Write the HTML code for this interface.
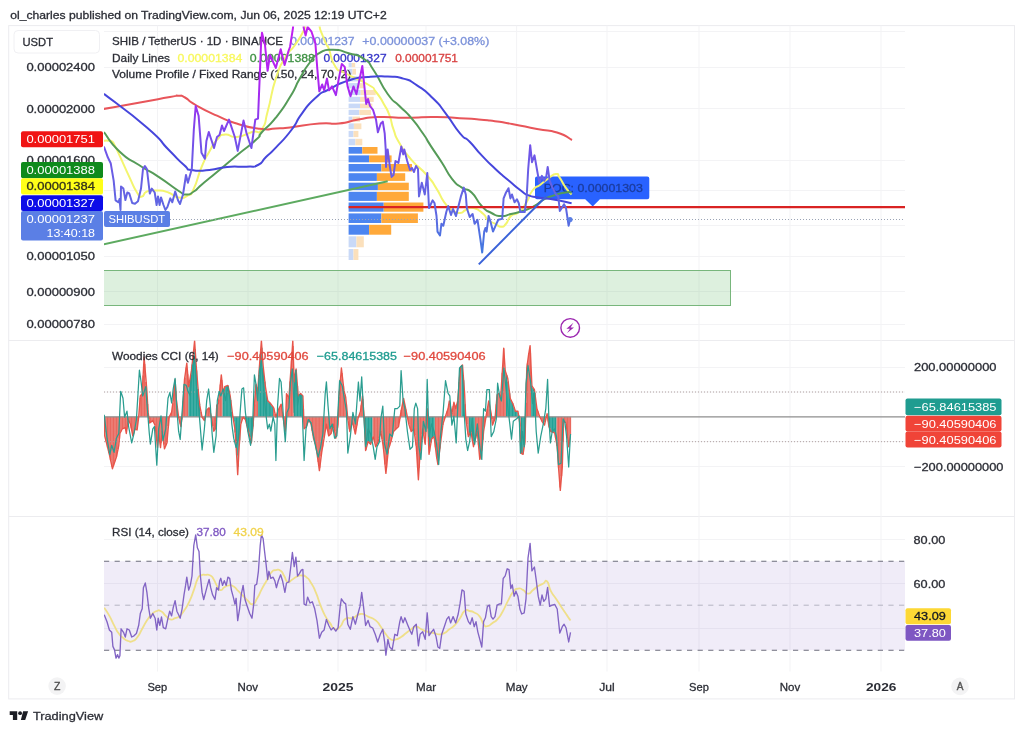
<!DOCTYPE html>
<html lang="en"><head><meta charset="utf-8"><title>SHIB / TetherUS - TradingView</title>
<style>
html,body{margin:0;padding:0;background:#fff;}
body{width:1024px;height:733px;overflow:hidden;position:relative;font-family:'Liberation Sans', sans-serif;}
svg{position:absolute;left:0;top:0;display:block}
text{font-family:'Liberation Sans', sans-serif;}
.t{font-size:11.6px;stroke-width:.3px}
.n{font-size:11.6px;stroke-width:.3px}
</style></head><body>
<svg width="1024" height="733" viewBox="0 0 1024 733">
<defs>
<linearGradient id="pg" gradientUnits="userSpaceOnUse" x1="0" y1="28" x2="0" y2="260">
<stop offset="0" stop-color="#C020F0"/><stop offset="0.2" stop-color="#B024F0"/><stop offset="0.31" stop-color="#A02CF0"/><stop offset="0.42" stop-color="#8244EC"/><stop offset="0.525" stop-color="#7054E8"/><stop offset="0.655" stop-color="#6860E4"/><stop offset="0.8" stop-color="#5E68E2"/><stop offset="1" stop-color="#3C7CE0"/>
</linearGradient>
<clipPath id="cm"><rect x="104" y="26.6" width="801" height="313.9"/></clipPath>
<clipPath id="cc"><rect x="104" y="340.5" width="801" height="176.0"/></clipPath>
<clipPath id="cr"><rect x="104" y="516.5" width="801" height="155.0"/></clipPath>
</defs>
<rect width="1024" height="733" fill="#fff"/>

<text x="10.2" y="19.2" class="t" textLength="376.5" lengthAdjust="spacingAndGlyphs" style="fill:#2c2e36;stroke:#2c2e36">ol_charles published on TradingView.com, Jun 06, 2025 12:19 UTC+2</text>
<rect x="8.7" y="25.6" width="1005.8" height="673.3" fill="none" stroke="#ECECEF" stroke-width="1"/>
<line x1="8.7" y1="340.5" x2="1014.5" y2="340.5" stroke="#ECECEF"/>
<line x1="8.7" y1="516.5" x2="1014.5" y2="516.5" stroke="#ECECEF"/>
<line x1="157.5" y1="25.6" x2="157.5" y2="671.5" stroke="#F3F3F5"/>
<line x1="248" y1="25.6" x2="248" y2="671.5" stroke="#F3F3F5"/>
<line x1="338" y1="25.6" x2="338" y2="671.5" stroke="#F3F3F5"/>
<line x1="426" y1="25.6" x2="426" y2="671.5" stroke="#F3F3F5"/>
<line x1="516.6" y1="25.6" x2="516.6" y2="671.5" stroke="#F3F3F5"/>
<line x1="607" y1="25.6" x2="607" y2="671.5" stroke="#F3F3F5"/>
<line x1="699" y1="25.6" x2="699" y2="671.5" stroke="#F3F3F5"/>
<line x1="790" y1="25.6" x2="790" y2="671.5" stroke="#F3F3F5"/>
<line x1="881" y1="25.6" x2="881" y2="671.5" stroke="#F3F3F5"/>
<line x1="104" y1="31.5" x2="905" y2="31.5" stroke="#F3F3F5"/>
<line x1="104" y1="67.5" x2="905" y2="67.5" stroke="#F3F3F5"/>
<line x1="104" y1="108.5" x2="905" y2="108.5" stroke="#F3F3F5"/>
<line x1="104" y1="160.5" x2="905" y2="160.5" stroke="#F3F3F5"/>
<line x1="104" y1="190.5" x2="905" y2="190.5" stroke="#F3F3F5"/>
<line x1="104" y1="225.5" x2="905" y2="225.5" stroke="#F3F3F5"/>
<line x1="104" y1="256.5" x2="905" y2="256.5" stroke="#F3F3F5"/>
<line x1="104" y1="291.5" x2="905" y2="291.5" stroke="#F3F3F5"/>
<line x1="104" y1="324.5" x2="905" y2="324.5" stroke="#F3F3F5"/>
<line x1="104" y1="367.5" x2="905" y2="367.5" stroke="#F3F3F5"/>
<line x1="104" y1="392" x2="905" y2="392" stroke="#F3F3F5"/>
<line x1="104" y1="441.5" x2="905" y2="441.5" stroke="#F3F3F5"/>
<line x1="104" y1="466.5" x2="905" y2="466.5" stroke="#F3F3F5"/>
<line x1="104" y1="539.5" x2="905" y2="539.5" stroke="#F3F3F5"/>
<line x1="104" y1="583.5" x2="905" y2="583.5" stroke="#F3F3F5"/>
<line x1="104" y1="628.5" x2="905" y2="628.5" stroke="#F3F3F5"/>
<g clip-path="url(#cm)">
<rect x="102" y="270.5" width="628.5" height="35" fill="#4CAF50" fill-opacity="0.19" stroke="#78B67C" stroke-width="1"/>
<rect x="348.6" y="249.0" width="4.9" height="11.0" fill="#C9D9F7"/>
<rect x="353.5" y="249.0" width="4.9" height="11.0" fill="#FBE0BC"/>
<rect x="348.6" y="236.3" width="7.8" height="11.0" fill="#C9D9F7"/>
<rect x="356.4" y="236.3" width="7.4" height="11.0" fill="#FBE0BC"/>
<rect x="348.6" y="224.8" width="20.5" height="9.9" fill="#4C85F0"/>
<rect x="369.1" y="224.8" width="22.1" height="9.9" fill="#FFA93A"/>
<rect x="348.6" y="213.4" width="32.8" height="9.6" fill="#4C85F0"/>
<rect x="381.4" y="213.4" width="36.5" height="9.6" fill="#FFA93A"/>
<rect x="348.6" y="202.5" width="35.1" height="9.2" fill="#4C85F0"/>
<rect x="383.8" y="202.5" width="39.6" height="9.2" fill="#FFA93A"/>
<rect x="348.6" y="191.8" width="28.3" height="9.1" fill="#4C85F0"/>
<rect x="376.9" y="191.8" width="31.9" height="9.1" fill="#FFA93A"/>
<rect x="348.6" y="182.7" width="29.3" height="7.4" fill="#4C85F0"/>
<rect x="377.9" y="182.7" width="30.9" height="7.4" fill="#FFA93A"/>
<rect x="348.6" y="173.2" width="28.3" height="7.7" fill="#4C85F0"/>
<rect x="376.9" y="173.2" width="28.3" height="7.7" fill="#FFA93A"/>
<rect x="348.6" y="164.0" width="32.8" height="7.5" fill="#4C85F0"/>
<rect x="381.4" y="164.0" width="30.6" height="7.5" fill="#FFA93A"/>
<rect x="348.6" y="155.4" width="20.5" height="6.9" fill="#4C85F0"/>
<rect x="369.1" y="155.4" width="22.5" height="6.9" fill="#FFA93A"/>
<rect x="348.6" y="147.0" width="13.7" height="6.7" fill="#4C85F0"/>
<rect x="362.3" y="147.0" width="15.2" height="6.7" fill="#FFA93A"/>
<rect x="348.6" y="138.8" width="6.8" height="6.5" fill="#C9D9F7"/>
<rect x="355.4" y="138.8" width="6.9" height="6.5" fill="#FBE0BC"/>
<rect x="348.6" y="130.9" width="4.9" height="6.2" fill="#C9D9F7"/>
<rect x="353.5" y="130.9" width="4.9" height="6.2" fill="#FBE0BC"/>
<rect x="348.6" y="123.4" width="5.3" height="5.8" fill="#C9D9F7"/>
<rect x="353.9" y="123.4" width="7.5" height="5.8" fill="#FBE0BC"/>
<rect x="348.6" y="116.6" width="3.9" height="5.1" fill="#C9D9F7"/>
<rect x="352.5" y="116.6" width="7.5" height="5.1" fill="#FBE0BC"/>
<rect x="348.6" y="109.8" width="10.7" height="5.2" fill="#C9D9F7"/>
<rect x="359.3" y="109.8" width="11.7" height="5.2" fill="#FBE0BC"/>
<rect x="348.6" y="103.6" width="11.4" height="4.4" fill="#C9D9F7"/>
<rect x="360.0" y="103.6" width="12.3" height="4.4" fill="#FBE0BC"/>
<rect x="348.6" y="96.8" width="11.4" height="5.1" fill="#C9D9F7"/>
<rect x="360.0" y="96.8" width="13.7" height="5.1" fill="#FBE0BC"/>
<rect x="348.6" y="90.0" width="12.1" height="5.1" fill="#C9D9F7"/>
<rect x="360.7" y="90.0" width="15.0" height="5.1" fill="#FBE0BC"/>
<rect x="348.6" y="83.1" width="10.7" height="5.2" fill="#C9D9F7"/>
<rect x="359.3" y="83.1" width="4.7" height="5.2" fill="#FBE0BC"/>
<rect x="348.6" y="76.3" width="10.7" height="5.1" fill="#C9D9F7"/>
<rect x="359.3" y="76.3" width="3.4" height="5.1" fill="#FBE0BC"/>
<rect x="348.6" y="68.8" width="3.9" height="5.8" fill="#C9D9F7"/>
<rect x="352.5" y="68.8" width="3.5" height="5.8" fill="#FBE0BC"/>
<rect x="348.6" y="62.9" width="3.2" height="4.3" fill="#C9D9F7"/>
<rect x="351.8" y="62.9" width="3.4" height="4.3" fill="#FBE0BC"/>
<text x="112" y="45.2" class="t" textLength="171" lengthAdjust="spacingAndGlyphs" style="fill:#2c2e36;stroke:#2c2e36">SHIB / TetherUS · 1D · BINANCE</text>
<text x="290.2" y="45.2" class="n" textLength="64.4" lengthAdjust="spacingAndGlyphs" style="fill:#7C92DA;stroke:#7C92DA">0.00001237</text>
<text x="362.3" y="45.2" class="n" textLength="127" lengthAdjust="spacingAndGlyphs" style="fill:#7C92DA;stroke:#7C92DA">+0.00000037 (+3.08%)</text>
<text x="112" y="61.6" class="t" textLength="58" lengthAdjust="spacingAndGlyphs" style="fill:#2c2e36;stroke:#2c2e36">Daily Lines</text>
<text x="177.5" y="61.6" class="n" textLength="64.8" lengthAdjust="spacingAndGlyphs" style="fill:#F8F85E;stroke:#F8F85E">0.00001384</text>
<text x="249.8" y="61.6" class="n" textLength="65.2" lengthAdjust="spacingAndGlyphs" style="fill:#3F9144;stroke:#3F9144">0.00001388</text>
<text x="323.4" y="61.6" class="n" textLength="63.2" lengthAdjust="spacingAndGlyphs" style="fill:#3535C8;stroke:#3535C8">0.00001327</text>
<text x="395.2" y="61.6" class="n" textLength="62.8" lengthAdjust="spacingAndGlyphs" style="fill:#D84040;stroke:#D84040">0.00001751</text>
<text x="112" y="77.9" class="t" textLength="239.3" lengthAdjust="spacingAndGlyphs" style="fill:#2c2e36;stroke:#2c2e36">Volume Profile / Fixed Range (150, 24, 70, 2)</text>
<path d="M537,176.5 h110.3 a2,2 0 0 1 2,2 v18.8 a2,2 0 0 1 -2,2 h-47.4 l-7.2,7.3 l-7.5,-7.3 h-48.2 a2,2 0 0 1 -2,-2 v-18.8 a2,2 0 0 1 2,-2 z" fill="#2962FF"/>
<text x="543.8" y="191.8" class="n" textLength="99" lengthAdjust="spacingAndGlyphs" style="fill:#1B3C9E;stroke:#1B3C9E">POC: 0.00001303</text>
<line x1="103.9" y1="244.3" x2="387.7" y2="181.2" stroke="#5DAA60" stroke-width="2"/>
<line x1="170" y1="219.5" x2="905" y2="219.5" stroke="#9AA3B5" stroke-width="1" stroke-dasharray="1 2"/>
<path d="M104.0,140.7C105.3,140.7 105.4,140.5 108.0,140.7C110.6,140.9 109.4,139.4 111.7,141.2C114.0,143.0 112.4,141.3 115.0,146.0C117.6,150.7 114.7,145.1 119.5,155.4C124.3,165.7 123.5,164.5 129.3,176.9C135.1,189.3 132.8,186.0 137.0,192.5C141.2,199.0 138.7,196.7 142.0,196.4C145.3,196.1 142.0,193.5 146.9,191.5C151.8,189.5 149.4,190.2 156.6,190.5C163.8,190.8 161.3,190.2 168.4,192.5C175.5,194.8 171.5,196.4 178.0,197.4C184.5,198.4 182.6,198.3 187.9,195.4C193.2,192.5 189.2,198.1 193.8,188.6C198.4,179.1 196.4,179.4 201.6,167.0C206.8,154.6 204.3,160.6 209.4,151.5C214.5,142.4 211.8,145.5 217.0,139.8C222.2,134.1 218.4,135.4 225.0,134.5C231.6,133.6 227.7,137.8 236.7,137.0C245.7,136.2 243.6,134.7 252.0,132.0C260.4,129.3 256.7,136.3 262.0,129.0C267.3,121.7 263.4,126.8 268.0,110.0C272.6,93.2 270.1,95.9 275.8,78.6C281.5,61.3 278.6,69.2 285.0,58.0C291.4,46.8 289.0,53.7 295.0,45.0C301.0,36.3 298.7,39.7 303.0,32.0C307.3,24.3 303.3,25.3 308.0,22.0C312.7,18.7 312.7,18.8 317.0,22.0C321.3,25.2 318.0,24.5 321.0,31.7C324.0,38.9 323.3,37.7 326.0,43.6C328.7,49.5 326.0,41.8 329.0,49.3C332.0,56.8 329.7,58.1 335.0,66.0C340.3,73.9 334.0,66.8 345.0,73.0C356.0,79.2 357.7,78.2 368.0,84.5C378.3,90.8 370.7,85.5 376.0,92.0C381.3,98.5 379.3,96.1 383.8,104.0C388.3,111.9 386.4,107.2 389.6,115.7C392.8,124.2 390.2,120.3 393.5,129.4C396.8,138.5 393.6,133.0 399.4,143.0C405.2,153.0 401.9,148.6 411.0,159.3C420.1,170.0 418.2,165.2 426.7,175.0C435.2,184.8 430.6,179.5 436.5,188.6C442.4,197.7 439.1,195.2 444.3,202.3C449.5,209.4 446.8,206.4 452.0,210.0C457.2,213.6 455.4,213.0 460.0,213.0C464.6,213.0 461.3,211.7 465.8,210.0C470.3,208.3 467.7,206.7 473.6,208.0C479.5,209.3 478.7,210.1 483.4,214.0C488.1,217.9 483.6,216.5 487.6,219.8C491.6,223.1 490.9,221.5 495.4,223.8C499.9,226.1 497.5,226.7 501.0,226.7C504.5,226.7 502.7,227.4 506.0,223.8C509.3,220.2 506.7,219.9 511.0,216.0C515.3,212.1 513.6,216.6 518.8,212.0C524.0,207.4 522.0,209.5 526.6,202.3C531.2,195.1 527.9,196.4 532.5,190.5C537.1,184.6 535.1,188.6 540.3,184.7C545.5,180.8 542.8,182.4 548.0,178.8C553.2,175.2 552.1,174.3 556.0,174.0C559.9,173.7 556.6,173.4 559.8,177.9C563.0,182.4 561.8,182.1 565.7,187.6C569.6,193.1 569.6,192.2 571.6,194.5" fill="none" stroke="#F3F56E" stroke-width="2" stroke-linejoin="round"/>
<path d="M103.9,108.9C115.9,106.8 118.0,106.5 140.0,102.5C162.0,98.5 157.3,99.2 170.0,97.0C182.7,94.8 173.1,95.6 178.1,95.8C183.1,96.0 179.1,94.4 185.0,97.5C190.9,100.6 185.0,98.9 195.7,105.0C206.4,111.1 203.3,109.5 217.0,115.7C230.7,121.9 222.4,119.1 236.7,123.5C251.0,127.9 247.0,127.2 260.0,128.8C273.0,130.4 265.8,128.9 275.8,128.4C285.8,127.9 275.5,129.0 290.0,127.4C304.5,125.8 303.0,124.8 319.3,123.5C335.6,122.2 325.8,124.8 338.8,123.5C351.8,122.2 345.4,121.8 358.4,119.6C371.4,117.4 361.7,117.6 377.9,117.0C394.1,116.4 387.5,117.7 407.0,117.7C426.5,117.7 416.9,116.7 436.5,117.0C456.1,117.3 448.0,117.4 465.8,118.6C483.6,119.8 474.6,118.8 490.0,120.6C505.4,122.4 496.3,121.2 512.0,124.0C527.7,126.8 522.0,126.2 537.0,129.0C552.0,131.8 545.3,128.8 557.0,132.5C568.7,136.2 567.0,137.5 572.0,140.0" fill="none" stroke="#E8555A" stroke-width="2" stroke-linejoin="round"/>
<path d="M103.9,132.0C109.1,138.5 107.8,140.5 119.5,151.5C131.2,162.5 126.0,156.5 139.0,165.0C152.0,173.5 145.6,168.4 158.6,176.9C171.6,185.4 168.9,184.6 178.0,190.5C187.1,196.4 180.7,194.2 186.0,194.5C191.3,194.8 188.6,194.8 193.8,191.5C199.0,188.2 193.9,191.2 201.6,184.7C209.3,178.2 205.3,181.8 217.0,172.0C228.7,162.2 223.7,166.1 236.7,155.4C249.7,144.7 247.6,147.6 256.0,139.8C264.4,132.0 255.4,139.4 262.0,132.0C268.6,124.6 266.5,129.4 275.8,117.7C285.1,106.0 282.0,110.0 290.0,97.0C298.0,84.0 293.3,89.9 299.8,78.6C306.3,67.3 303.0,71.5 309.5,63.0C316.0,54.5 311.5,57.6 319.3,53.2C327.1,48.8 323.2,49.7 333.0,49.7C342.8,49.7 338.3,50.1 348.6,53.2C358.9,56.3 355.5,53.1 364.0,59.0C372.5,64.9 366.1,59.1 374.0,70.8C381.9,82.5 379.2,82.3 387.7,94.0C396.2,105.7 391.6,98.1 399.4,106.0C407.2,113.9 403.2,108.6 411.0,117.7C418.8,126.8 416.3,124.0 422.8,133.3C429.3,142.6 424.1,135.6 430.6,145.6C437.1,155.6 435.2,152.1 442.3,163.2C449.4,174.3 445.5,170.7 452.0,178.8C458.5,186.9 455.4,183.0 461.9,187.6C468.4,192.2 465.0,186.4 471.6,192.5C478.2,198.6 475.1,199.2 481.7,206.0C488.3,212.8 485.1,209.7 491.5,213.0C497.9,216.3 494.5,215.7 501.0,216.0C507.5,216.3 503.8,215.7 511.0,214.0C518.2,212.3 514.9,213.7 522.7,211.0C530.5,208.3 527.4,209.9 534.5,206.0C541.6,202.1 537.5,202.8 544.0,199.3C550.5,195.8 546.8,197.7 554.0,195.4C561.2,193.1 559.8,193.5 565.7,192.5C571.6,191.5 569.6,192.5 571.6,192.5" fill="none" stroke="#559B58" stroke-width="2" stroke-linejoin="round"/>
<path d="M103.9,93.8C118.2,105.0 125.4,108.8 146.9,127.4C168.4,146.0 156.0,137.0 168.4,149.5C180.8,162.0 176.2,158.2 184.0,165.0C191.8,171.8 183.3,168.3 191.8,170.0C200.3,171.7 197.7,171.0 209.4,170.0C221.1,169.0 214.6,168.1 227.0,167.0C239.4,165.9 236.2,167.4 246.5,166.7C256.8,166.0 251.5,168.2 258.0,165.0C264.5,161.8 260.1,162.8 266.0,157.0C271.9,151.2 267.3,156.6 275.8,147.6C284.3,138.6 282.8,141.3 291.4,130.0C300.0,118.7 293.7,124.5 301.7,113.8C309.7,103.1 306.3,106.2 315.4,98.0C324.5,89.8 317.9,95.1 329.0,89.3C340.1,83.5 335.6,84.6 348.6,80.5C361.6,76.4 355.0,78.3 368.0,77.0C381.0,75.7 375.9,76.1 387.7,76.6C399.5,77.1 393.5,75.7 403.3,78.6C413.1,81.5 407.2,78.9 417.0,85.4C426.8,91.9 422.9,88.5 432.6,98.0C442.3,107.5 436.9,102.0 446.0,113.8C455.1,125.6 452.1,124.0 460.0,133.3C467.9,142.6 462.5,134.3 469.7,141.7C476.9,149.1 473.1,146.3 481.7,155.4C490.3,164.5 486.3,160.5 495.4,169.0C504.5,177.5 500.5,173.6 509.0,180.8C517.5,188.0 514.3,185.6 520.8,190.5C527.3,195.4 522.7,193.1 528.6,195.4C534.5,197.7 530.6,196.1 538.4,197.4C546.2,198.7 540.9,197.4 552.0,199.3C563.1,201.2 565.1,201.9 571.6,203.2" fill="none" stroke="#4646DC" stroke-width="2" stroke-linejoin="round"/>
<line x1="348.6" y1="207.2" x2="905" y2="207.2" stroke="#D92323" stroke-width="2.2"/>
<line x1="478.8" y1="264.4" x2="546" y2="196.5" stroke="#3A62D8" stroke-width="2"/>
<polyline points="103.9,146.6 107.8,157.3 110.7,163.2 113.7,180.8 115.6,200.3 118.6,202.3 119.5,199.0 120.5,210.0 121.0,186.6 123.4,188.6 125.4,200.0 127.3,192.5 129.3,193.5 132.2,203.0 135.0,203.8 138.0,201.3 141.0,188.6 143.0,169.0 144.9,166.0 146.9,169.0 149.8,193.5 151.8,188.6 154.7,192.5 156.6,205.0 158.0,196.4 159.6,205.0 161.0,197.4 163.5,205.0 165.4,210.0 167.4,207.0 170.3,198.4 172.3,202.3 175.2,191.5 178.0,200.3 180.0,204.0 183.0,194.5 186.0,175.0 187.9,182.7 189.8,175.9 191.8,169.0 193.8,130.0 195.7,106.0 198.6,115.7 201.5,152.8 204.9,158.7 206.4,141.0 208.8,132.0 214.0,148.0 217.0,137.0 219.5,135.0 222.0,125.5 224.0,131.0 229.0,119.6 234.8,137.0 237.7,150.9 243.5,120.6 246.5,133.0 251.4,148.0 255.3,119.6 258.0,118.6 261.0,45.4 262.0,32.7 265.0,45.0 267.6,70.8 270.0,55.0 275.8,67.9 280.7,49.3 284.6,65.0 288.5,51.0 290.0,47.0 293.0,27.8 293.6,18.0 303.0,18.0 303.7,27.8 305.6,35.6 307.6,26.8 311.5,31.7 315.4,43.4 317.3,68.8 319.3,91.3 322.2,84.5 324.2,90.3 327.0,78.6 329.0,90.3 332.0,86.4 335.9,95.2 338.8,78.6 341.8,63.9 344.7,66.9 347.6,86.4 350.5,96.2 353.5,86.4 356.4,94.2 359.3,80.5 362.3,65.9 364.2,84.5 366.2,104.0 368.0,99.0 370.0,106.0 373.0,109.8 376.0,119.6 377.9,132.3 380.8,123.5 382.8,121.6 384.7,133.3 385.7,149.5 386.0,167.0 387.7,149.5 389.6,165.0 391.6,176.9 393.5,175.0 395.5,161.0 398.4,163.0 401.3,146.6 403.3,154.4 404.3,149.5 407.2,161.0 410.0,170.0 412.0,168.0 414.0,172.0 416.0,166.0 418.0,169.0 419.0,196.4 421.8,182.7 424.8,194.5 427.3,173.0 429.0,208.0 432.6,200.3 434.5,203.0 436.5,216.0 437.5,231.6 440.0,235.5 441.4,223.8 443.3,225.7 446.3,212.0 448.2,206.0 451.0,215.0 453.0,209.0 456.0,216.0 458.0,208.0 460.9,196.4 463.8,187.6 465.8,194.5 466.8,208.0 469.7,217.0 472.6,214.0 474.6,223.8 477.5,219.8 480.4,239.4 482.2,252.5 484.2,231.6 485.4,228.0 486.6,231.6 488.6,216.0 490.5,221.8 493.0,231.6 496.4,223.8 498.3,219.8 502.2,218.9 503.6,198.4 506.0,192.5 508.5,188.2 510.4,198.4 512.0,194.5 514.5,202.3 516.9,199.3 518.8,203.2 520.4,212.0 524.7,212.0 526.6,198.4 528.2,169.0 530.2,145.2 532.0,162.2 534.5,155.4 537.4,172.0 539.3,182.7 541.9,175.9 544.2,180.8 546.2,176.9 547.7,167.0 549.7,180.8 552.0,186.6 555.9,194.5 558.3,196.4 559.8,211.0 561.8,208.0 564.0,204.2 566.0,208.0 568.6,225.7 570.0,219.8" fill="none" stroke="url(#pg)" stroke-width="2" stroke-linejoin="round"/>
<circle cx="570" cy="219.5" r="2.6" fill="#5B7FE5"/>
</g>
<rect x="104" y="211" width="66" height="16" rx="2" fill="#5B7FE5"/>
<text x="108.4" y="222.6" class="t" textLength="56.8" lengthAdjust="spacingAndGlyphs" style="fill:#fff">SHIBUSDT</text>
<circle cx="570.2" cy="327.9" r="9.3" fill="#fff" stroke="#9C27B0" stroke-width="1.4"/>
<path d="M573.4,322.8 L566.4,328.7 L569.9,328.7 L567.1,333 L574,327.4 L570.6,327.4 Z" fill="#9C27B0"/>
<rect x="14" y="30.5" width="85.5" height="22.5" rx="4" fill="#fff" stroke="#F0F0F3"/>
<text x="22.5" y="46.2" class="t" textLength="30.5" lengthAdjust="spacingAndGlyphs" style="fill:#2c2e36;stroke:#2c2e36">USDT</text>
<text x="26.4" y="71.0" class="n" textLength="68.6" lengthAdjust="spacingAndGlyphs" style="fill:#2c2e36;stroke:#2c2e36">0.00002400</text>
<text x="26.4" y="112.8" class="n" textLength="68.6" lengthAdjust="spacingAndGlyphs" style="fill:#2c2e36;stroke:#2c2e36">0.00002000</text>
<text x="26.4" y="163.9" class="n" textLength="68.6" lengthAdjust="spacingAndGlyphs" style="fill:#2c2e36;stroke:#2c2e36">0.00001600</text>
<text x="26.4" y="260.4" class="n" textLength="68.6" lengthAdjust="spacingAndGlyphs" style="fill:#2c2e36;stroke:#2c2e36">0.00001050</text>
<text x="26.4" y="295.7" class="n" textLength="68.6" lengthAdjust="spacingAndGlyphs" style="fill:#2c2e36;stroke:#2c2e36">0.00000900</text>
<text x="26.4" y="328.4" class="n" textLength="68.6" lengthAdjust="spacingAndGlyphs" style="fill:#2c2e36;stroke:#2c2e36">0.00000780</text>
<rect x="21" y="131.3" width="82" height="16.0" rx="2" fill="#F01414"/>
<text x="26.4" y="142.9" class="n" textLength="68.6" lengthAdjust="spacingAndGlyphs" style="fill:#fff">0.00001751</text>
<rect x="21" y="162" width="82" height="16.30000000000001" rx="2" fill="#0F8A1C"/>
<text x="26.4" y="173.6" class="n" textLength="68.6" lengthAdjust="spacingAndGlyphs" style="fill:#fff">0.00001388</text>
<rect x="21" y="178.3" width="82" height="16.099999999999994" rx="2" fill="#FFFF18"/>
<text x="26.4" y="189.9" class="n" textLength="68.6" lengthAdjust="spacingAndGlyphs" style="fill:#33331a;stroke:#33331a">0.00001384</text>
<rect x="21" y="195.2" width="82" height="15.700000000000017" rx="2" fill="#0C0CE8"/>
<text x="26.4" y="206.8" class="n" textLength="68.6" lengthAdjust="spacingAndGlyphs" style="fill:#fff">0.00001327</text>
<rect x="21" y="210.9" width="82" height="29.599999999999994" rx="2" fill="#5B7FE5"/>
<text x="26.4" y="222.5" class="n" textLength="68.6" lengthAdjust="spacingAndGlyphs" style="fill:#fff">0.00001237</text>
<text x="46.5" y="236.6" class="n" textLength="48.5" lengthAdjust="spacingAndGlyphs" style="fill:#fff">13:40:18</text>
<g clip-path="url(#cc)">
<path d="M104.60,416.8V432.3M106.08,416.8V441.5M107.57,416.8V447.4M109.05,416.8V453.3M110.53,416.8V460.0M112.02,416.8V466.8M113.50,416.8V465.6M114.99,416.8V461.2M116.47,416.8V456.7M117.95,416.8V449.3M119.44,416.8V438.6M120.92,416.8V431.6M122.40,416.8V428.8M123.89,416.8V428.2M125.37,416.8V427.9M126.85,416.8V429.2M128.34,416.8V419.8M129.82,416.8V422.8M131.30,416.8V428.2M132.79,416.8V435.6M134.27,416.8V431.6M135.76,416.8V429.2M137.24,416.8V428.7M138.72,416.8V416.9M140.21,416.8V397.8M141.69,416.8V394.3M143.17,416.8V375.4M144.66,416.8V363.9M146.14,416.8V381.9M147.62,416.8V404.0M149.11,416.8V418.9M150.59,416.8V422.3M152.08,416.8V421.2M153.56,416.8V422.2M155.04,416.8V425.1M156.53,416.8V438.6M158.01,416.8V441.2M159.49,416.8V439.8M160.98,416.8V443.1M162.46,416.8V433.4M163.94,416.8V444.5M165.43,416.8V446.5M166.91,416.8V442.4M168.39,416.8V426.1M169.88,416.8V415.8M171.36,416.8V412.8M172.85,416.8V403.2M174.33,416.8V387.9M175.81,416.8V391.4M177.30,416.8V406.7M178.78,416.8V417.9M180.26,416.8V423.8M181.75,416.8V419.6M183.23,416.8V401.0M184.71,416.8V377.8M186.20,416.8V367.4M187.68,416.8V374.2M201.03,416.8V412.0M202.52,416.8V417.8M204.00,416.8V420.0M205.48,416.8V415.7M206.97,416.8V409.8M208.45,416.8V408.4M209.94,416.8V411.1M211.42,416.8V417.0M212.90,416.8V425.9M214.39,416.8V430.3M215.87,416.8V421.5M217.35,416.8V404.6M218.84,416.8V399.5M220.32,416.8V384.6M221.80,416.8V380.0M241.09,416.8V423.2M242.57,416.8V418.7M244.06,416.8V418.1M254.44,416.8V404.4M255.93,416.8V385.3M257.41,416.8V392.3M273.73,416.8V408.2M275.21,416.8V414.2M276.70,416.8V414.9M278.18,416.8V410.4M279.66,416.8V407.2M281.15,416.8V404.5M282.63,416.8V414.7M284.12,416.8V423.9M285.60,416.8V422.9M287.08,416.8V394.8M288.57,416.8V397.8M290.05,416.8V381.6M291.53,416.8V360.5M293.02,416.8V346.0M304.89,416.8V428.1M306.37,416.8V426.6M307.85,416.8V422.3M309.34,416.8V420.5M310.82,416.8V423.5M312.30,416.8V431.1M313.79,416.8V439.1M315.27,416.8V443.6M316.75,416.8V451.7M318.24,416.8V462.1M319.72,416.8V467.7M321.21,416.8V456.2M322.69,416.8V446.4M324.17,416.8V437.5M325.66,416.8V428.6M327.14,416.8V427.9M328.62,416.8V435.3M330.11,416.8V434.5M331.59,416.8V431.5M333.07,416.8V425.6M334.56,416.8V430.9M336.04,416.8V436.7M337.53,416.8V427.7M339.01,416.8V397.1M340.49,416.8V379.3M341.98,416.8V372.9M343.46,416.8V386.3M344.94,416.8V394.4M346.43,416.8V404.5M347.91,416.8V419.7M349.39,416.8V428.9M350.88,416.8V427.2M352.36,416.8V421.4M353.84,416.8V427.6M355.33,416.8V433.8M356.81,416.8V425.5M358.30,416.8V417.7M359.78,416.8V413.2M361.26,416.8V405.2M362.75,416.8V399.1M364.23,416.8V418.1M373.13,416.8V436.6M374.62,416.8V442.4M376.10,416.8V445.9M377.58,416.8V443.0M379.07,416.8V438.3M380.55,416.8V432.4M382.03,416.8V439.0M383.52,416.8V448.8M385.00,416.8V464.4M386.48,416.8V467.5M387.97,416.8V453.4M389.45,416.8V446.1M390.93,416.8V441.7M392.42,416.8V435.7M393.90,416.8V431.1M395.39,416.8V429.6M396.87,416.8V428.1M398.35,416.8V426.6M399.84,416.8V418.7M401.32,416.8V410.0M402.80,416.8V402.6M404.29,416.8V401.8M405.77,416.8V409.2M407.25,416.8V416.6M408.74,416.8V424.0M410.22,416.8V428.4M411.71,416.8V431.0M413.19,416.8V429.5M414.67,416.8V435.1M416.16,416.8V445.5M417.64,416.8V468.0M419.12,416.8V467.8M420.61,416.8V447.6M422.09,416.8V434.3M423.57,416.8V434.3M425.06,416.8V443.3M426.54,416.8V421.0M435.44,416.8V447.3M436.93,416.8V458.6M438.41,416.8V460.5M439.89,416.8V448.6M441.38,416.8V436.8M442.86,416.8V424.9M444.34,416.8V419.8M445.83,416.8V415.4M447.31,416.8V410.9M448.80,416.8V404.3M450.28,416.8V405.7M451.76,416.8V413.1M453.25,416.8V406.0M454.73,416.8V405.2M456.21,416.8V406.6M457.70,416.8V401.1M459.18,416.8V382.1M460.66,416.8V367.6M465.11,416.8V404.3M466.60,416.8V424.1M468.08,416.8V434.5M475.50,416.8V438.6M476.98,416.8V432.6M478.47,416.8V444.7M479.95,416.8V458.7M481.43,416.8V451.2M482.92,416.8V439.8M484.40,416.8V426.7M485.89,416.8V417.8M487.37,416.8V408.9M488.85,416.8V401.8M490.34,416.8V409.2M491.82,416.8V419.0M493.30,416.8V423.1M494.79,416.8V419.4M496.27,416.8V404.2M497.75,416.8V394.2M499.24,416.8V394.5M500.72,416.8V396.8M502.20,416.8V372.8M503.69,416.8V348.5M505.17,416.8V370.1M518.52,416.8V415.1M520.01,416.8V426.4M525.94,416.8V402.7M527.43,416.8V363.4M528.91,416.8V353.0M530.39,416.8V352.7M536.33,416.8V404.1M537.81,416.8V411.3M539.29,416.8V415.7M540.78,416.8V418.9M542.26,416.8V421.7M543.75,416.8V423.9M545.23,416.8V422.1M546.71,416.8V415.4M548.20,416.8V421.6M557.10,416.8V445.9M558.58,416.8V467.8M560.07,416.8V487.4M561.55,416.8V475.9M563.03,416.8V441.4M564.52,416.8V421.8M566.00,416.8V422.5M567.48,416.8V435.5M568.97,416.8V444.6M570.45,416.8V434.0" stroke="#E9685E" stroke-width="1.36" fill="none"/>
<path d="M189.17,416.8V383.8M190.65,416.8V375.1M192.13,416.8V364.5M193.62,416.8V351.1M195.10,416.8V349.1M196.58,416.8V370.4M198.07,416.8V389.0M199.55,416.8V403.8M223.29,416.8V393.1M224.77,416.8V386.8M226.26,416.8V386.1M227.74,416.8V385.5M229.22,416.8V391.6M230.71,416.8V400.0M232.19,416.8V411.9M233.67,416.8V421.5M235.16,416.8V432.4M236.64,416.8V455.5M238.12,416.8V466.7M239.61,416.8V440.6M245.54,416.8V419.8M247.03,416.8V425.7M248.51,416.8V431.7M249.99,416.8V437.6M251.48,416.8V441.4M252.96,416.8V426.5M258.89,416.8V375.0M260.38,416.8V354.4M261.86,416.8V347.7M263.35,416.8V368.2M264.83,416.8V381.5M266.31,416.8V392.1M267.80,416.8V400.7M269.28,416.8V402.2M270.76,416.8V403.9M272.25,416.8V405.9M294.50,416.8V380.2M295.98,416.8V370.0M297.47,416.8V386.1M298.95,416.8V395.3M300.44,416.8V393.8M301.92,416.8V395.0M303.40,416.8V409.1M365.71,416.8V450.0M367.20,416.8V444.8M368.68,416.8V442.2M370.16,416.8V443.7M371.65,416.8V441.1M428.02,416.8V428.6M429.51,416.8V451.4M430.99,416.8V442.5M432.48,416.8V438.2M433.96,416.8V436.7M462.15,416.8V365.4M463.63,416.8V380.2M469.57,416.8V434.2M471.05,416.8V432.3M472.53,416.8V441.2M474.02,416.8V444.5M506.66,416.8V374.9M508.14,416.8V381.4M509.62,416.8V393.3M511.11,416.8V400.1M512.59,416.8V403.1M514.07,416.8V407.3M515.56,416.8V411.2M517.04,416.8V411.2M521.49,416.8V453.4M522.98,416.8V454.3M524.46,416.8V445.0M531.88,416.8V385.8M533.36,416.8V388.0M534.84,416.8V393.0M549.68,416.8V428.4M551.16,416.8V431.6M552.65,416.8V432.1M554.13,416.8V432.6M555.61,416.8V437.7" stroke="#22A196" stroke-width="1.36" fill="none"/>
<line x1="104" y1="392" x2="905" y2="392" stroke="#B0A0A0" stroke-width="1" stroke-dasharray="1 2"/>
<line x1="104" y1="441.7" x2="905" y2="441.7" stroke="#B0A0A0" stroke-width="1" stroke-dasharray="1 2"/>
<line x1="104" y1="416.8" x2="905" y2="416.8" stroke="#8E8E8E" stroke-width="1.3"/>
<polyline points="104.2,417.1 104.7,435.9 109.4,454.6 112.4,468.7 116.4,457.0 118.8,445.3 119.9,433.5 122.3,428.8 125.3,427.7 126.3,433.5 128.2,419.5 130.5,424.1 132.8,435.9 135.2,428.8 137.1,430.0 138.7,417.1 140.3,396.0 142.2,393.6 144.1,357.3 145.8,377.2 146.9,391.3 148.1,412.4 149.7,423.0 152.8,420.6 155.1,425.3 157.5,447.6 158.7,433.5 160.5,447.6 162.2,431.2 164.5,448.8 166.9,442.9 169.2,417.1 171.6,412.4 173.2,400.7 175.1,379.6 176.2,398.3 178.6,417.1 180.9,426.5 182.6,412.4 184.5,379.6 186.8,363.1 188.7,386.6 191.5,370.2 193.8,349.1 194.6,340.9 196.2,365.5 198.1,389.0 199.7,405.4 202.1,417.1 204.4,420.6 206.7,410.1 209.1,407.7 211.4,417.1 213.8,431.2 215.4,428.8 216.8,405.4 218.5,403.0 219.7,391.3 221.3,374.9 223.2,393.6 224.8,386.6 227.9,385.4 230.2,396.0 232.6,414.8 234.9,428.8 236.1,445.3 237.7,474.6 239.1,447.6 240.8,424.1 243.1,417.1 245.4,419.5 247.8,428.8 251.3,442.9 253.0,426.5 254.4,405.4 256.0,384.3 257.6,393.6 259.5,365.5 261.4,340.9 263.1,365.5 265.4,386.6 267.7,400.7 270.1,403.0 273.6,407.7 275.9,417.1 278.3,410.1 281.1,404.2 283.0,417.1 285.3,431.2 286.5,393.6 288.9,398.3 291.2,365.5 292.8,340.9 294.2,381.9 296.1,369.0 298.2,396.0 300.6,393.6 302.9,396.0 304.1,428.8 306.4,426.5 308.8,419.5 311.1,424.1 313.5,438.2 315.8,445.3 318.2,461.7 319.4,470.6 321.7,452.3 324.1,438.2 326.4,424.1 328.7,435.9 331.1,433.5 333.4,424.1 335.8,438.2 338.1,424.1 338.9,398.5 341.4,368.0 344.0,390.9 345.7,397.2 347.8,418.8 349.8,431.5 352.3,421.3 355.4,434.0 357.9,418.8 360.5,411.2 362.5,395.9 364.3,418.8 365.6,450.5 368.1,441.6 370.6,444.2 373.2,436.6 375.7,446.7 378.2,441.6 380.8,431.5 383.3,446.7 385.9,473.4 388.4,449.3 390.9,441.6 393.5,431.5 396.0,428.9 398.6,426.4 401.1,411.2 403.6,398.5 406.2,411.2 408.7,423.9 411.2,431.5 413.8,428.9 416.3,446.7 418.4,479.7 420.1,451.8 422.7,428.9 425.2,444.2 427.2,408.6 429.0,454.3 431.6,439.1 434.1,436.6 436.6,456.9 437.9,464.5 440.4,444.2 443.0,423.9 445.5,416.2 448.1,408.6 449.3,401.0 451.9,413.7 453.9,402.3 455.7,408.6 457.7,401.0 459.5,378.2 460.8,366.7 462.5,365.0 464.6,393.4 465.8,418.8 468.4,436.6 470.9,431.5 473.5,446.7 476.0,436.6 477.3,431.5 479.8,459.4 482.3,446.7 483.6,431.5 486.1,416.2 488.7,401.0 491.2,413.7 492.5,425.1 495.0,418.8 497.1,394.7 498.9,393.4 500.6,398.5 502.7,365.5 503.7,348.2 505.2,370.6 507.7,378.2 510.3,398.5 512.8,403.6 515.4,411.2 517.9,411.2 519.9,423.9 520.9,453.1 523.0,454.3 525.0,441.6 526.8,368.0 528.5,355.3 530.1,345.7 531.9,385.8 534.4,389.6 536.9,408.6 539.5,416.2 542.0,421.3 544.5,425.1 547.1,413.7 548.9,426.4 550.9,431.5 554.7,432.8 557.2,446.7 558.5,467.0 560.3,490.4 562.3,467.0 563.6,421.3 566.1,422.6 568.7,446.7 570.5,434.0" fill="none" stroke="#E8554A" stroke-width="1.4" stroke-linejoin="round"/>
<polyline points="104.2,414.8 107.0,438.2 109.8,454.6 111.7,445.3 114.1,452.3 116.4,438.2 118.8,433.5 120.7,391.3 123.0,398.3 124.6,417.1 127.0,411.2 128.6,426.5 131.7,442.9 134.0,433.5 136.4,419.5 138.0,393.6 139.4,370.2 141.1,381.9 142.7,396.0 145.8,386.6 146.9,403.0 149.3,433.5 150.4,444.1 152.8,428.8 154.4,426.5 156.8,465.2 158.7,428.8 161.0,415.9 162.9,440.6 165.7,428.8 168.0,398.3 169.9,392.5 171.6,403.0 173.2,389.0 175.1,378.4 176.9,410.1 178.6,431.2 180.2,439.4 182.1,412.4 184.0,384.3 186.3,385.4 188.0,391.3 190.3,396.0 192.7,365.5 194.6,358.5 196.2,381.9 198.5,405.4 200.4,428.8 202.1,450.0 204.4,428.8 206.7,400.7 208.6,389.0 210.3,405.4 212.1,433.5 213.8,452.3 216.1,435.9 217.3,400.7 219.2,391.3 220.8,396.0 223.2,389.0 225.5,400.7 227.9,386.6 230.2,400.7 231.8,424.1 233.7,438.2 236.1,447.6 238.4,438.2 240.3,410.1 241.9,389.0 243.6,387.8 245.4,412.4 247.8,431.2 250.6,445.3 252.5,428.8 254.4,374.9 256.0,384.3 257.6,400.7 259.5,370.2 261.4,360.8 263.1,381.9 265.4,410.1 267.7,428.8 269.4,424.1 270.8,431.2 273.1,417.1 274.8,424.1 275.9,460.5 277.6,405.4 279.5,378.4 281.1,381.9 282.5,403.0 284.2,428.8 285.3,441.7 287.0,412.4 288.9,407.7 290.5,381.9 292.4,369.0 294.2,412.4 295.9,370.2 297.5,405.4 299.4,394.8 301.8,396.0 302.9,428.8 304.1,460.5 306.0,428.8 308.3,419.5 311.1,423.0 313.5,435.9 315.8,447.6 318.2,457.0 320.5,447.6 322.9,433.5 325.2,393.6 326.4,381.9 328.0,405.4 329.9,428.8 332.3,424.1 334.6,438.2 336.9,435.9 337.6,418.8 339.6,380.7 342.2,385.8 344.7,401.0 346.5,411.2 347.8,453.1 350.3,436.6 352.9,412.4 355.4,423.9 358.4,382.0 360.0,401.0 361.7,376.9 363.5,411.2 365.6,446.7 368.1,428.9 370.6,434.0 373.2,446.7 375.2,459.4 377.0,446.7 379.5,441.6 380.8,418.8 382.8,406.1 384.6,444.2 387.1,454.3 389.7,434.0 392.2,436.6 394.8,408.6 397.3,408.6 399.8,406.1 401.1,370.6 403.1,401.0 404.9,408.6 407.4,431.5 410.0,449.3 412.5,446.7 414.3,408.6 415.8,403.1 417.6,408.6 418.9,446.7 420.9,459.4 423.4,421.3 426.0,431.5 427.2,379.4 429.0,436.6 431.6,423.9 434.1,431.5 436.6,444.2 438.7,464.5 440.4,436.6 443.0,413.7 445.5,380.7 448.1,393.4 449.8,395.9 451.9,425.1 453.9,416.2 456.2,442.9 457.7,408.6 459.5,368.0 462.0,365.5 464.1,411.2 465.8,439.1 467.6,450.5 469.6,441.6 472.2,418.8 474.7,444.2 477.3,423.9 479.8,446.7 481.8,459.4 483.6,408.6 485.4,411.2 486.9,389.6 489.4,389.6 491.2,436.6 493.8,431.5 496.3,418.8 497.6,383.2 499.6,395.9 501.4,401.0 503.9,368.0 505.7,385.8 507.7,406.1 509.8,423.9 511.5,439.1 513.3,421.3 516.6,418.8 519.2,416.2 520.4,453.1 522.5,431.5 524.2,446.7 526.0,383.2 528.0,365.5 530.6,382.0 532.6,403.6 534.4,392.1 536.2,431.5 538.2,453.1 540.7,436.6 543.3,423.9 545.8,408.6 547.6,379.4 548.9,418.8 550.4,442.9 552.2,431.5 554.7,428.9 556.5,436.6 558.5,464.5 561.0,463.2 563.1,418.8 564.9,422.6 566.6,436.6 568.7,467.0 570.5,434.0" fill="none" stroke="#2A9D90" stroke-width="1.25" stroke-linejoin="round"/>
</g>
<text x="112" y="359.7" class="t" textLength="106.8" lengthAdjust="spacingAndGlyphs" style="fill:#2c2e36;stroke:#2c2e36">Woodies CCI (6, 14)</text>
<text x="227.2" y="359.7" class="n" textLength="81.5" lengthAdjust="spacingAndGlyphs" style="fill:#E0493E;stroke:#E0493E">−90.40590406</text>
<text x="316.8" y="359.7" class="n" textLength="80.2" lengthAdjust="spacingAndGlyphs" style="fill:#1F9C90;stroke:#1F9C90">−65.84615385</text>
<text x="403.6" y="359.7" class="n" textLength="82" lengthAdjust="spacingAndGlyphs" style="fill:#E0493E;stroke:#E0493E">−90.40590406</text>
<text x="914" y="371" class="n" textLength="82.5" lengthAdjust="spacingAndGlyphs" style="fill:#2c2e36;stroke:#2c2e36">200.00000000</text>
<text x="914" y="470.8" class="n" textLength="89.5" lengthAdjust="spacingAndGlyphs" style="fill:#2c2e36;stroke:#2c2e36">−200.00000000</text>
<rect x="905.5" y="398.6" width="96" height="16.69999999999999" rx="2" fill="#1F9C90"/>
<text x="914" y="410.7" class="n" textLength="82.5" lengthAdjust="spacingAndGlyphs" style="fill:#fff">−65.84615385</text>
<rect x="905.5" y="415.8" width="96" height="15.800000000000011" rx="2" fill="#F04438"/>
<text x="914" y="427.9" class="n" textLength="82.5" lengthAdjust="spacingAndGlyphs" style="fill:#fff">−90.40590406</text>
<rect x="905.5" y="431.4" width="96" height="16.0" rx="2" fill="#F04438"/>
<text x="914" y="443.5" class="n" textLength="82.5" lengthAdjust="spacingAndGlyphs" style="fill:#fff">−90.40590406</text>
<g clip-path="url(#cr)">
<rect x="104" y="561.2" width="801" height="89.09999999999991" fill="#7E57C2" fill-opacity="0.115"/>
<line x1="104" y1="561.2" x2="905" y2="561.2" stroke="#6E6E7C" stroke-width="1.1" stroke-dasharray="5.2 5.4"/>
<line x1="104" y1="650.3" x2="905" y2="650.3" stroke="#6E6E7C" stroke-width="1.1" stroke-dasharray="5.2 5.4"/>
<line x1="104" y1="605.2" x2="905" y2="605.2" stroke="#B4B4C2" stroke-width="1" stroke-dasharray="5.2 5.4"/>
<path d="M104.2,607.7C105.9,610.4 106.1,610.0 109.4,615.9C112.7,621.7 111.0,619.4 114.1,625.3C117.2,631.1 115.6,629.2 118.8,633.5C121.9,637.8 120.3,635.7 123.5,638.2C126.6,640.7 125.0,640.0 128.2,641.0C131.3,641.9 129.7,642.3 132.8,641.0C136.0,639.6 134.4,641.1 137.5,637.0C140.7,632.9 139.1,634.3 142.2,628.8C145.4,623.3 143.8,625.3 146.9,620.6C150.0,615.9 148.5,617.8 151.6,614.7C154.7,611.6 153.2,612.4 156.3,611.2C159.4,610.0 157.9,609.6 161.0,611.2C164.1,612.8 162.6,613.1 165.7,615.9C168.8,618.6 167.3,618.6 170.4,619.4C173.5,620.2 171.9,619.4 175.1,618.2C178.2,617.1 176.6,618.6 179.8,615.9C182.9,613.1 181.3,614.7 184.5,610.0C187.6,605.3 186.0,608.4 189.2,601.8C192.3,595.2 191.1,597.5 193.8,590.1C196.6,582.6 195.0,584.4 197.4,579.5C199.7,574.7 198.1,577.1 200.9,575.5C203.6,574.0 202.4,574.8 205.6,574.8C208.7,574.8 207.5,574.0 210.3,575.5C213.0,577.1 211.4,575.8 213.8,579.5C216.1,583.2 215.0,583.0 217.3,586.5C219.6,590.1 218.5,589.8 220.8,590.1C223.2,590.3 221.6,588.8 224.3,587.3C227.1,585.7 225.9,585.6 229.0,585.4C232.2,585.1 230.6,584.6 233.7,586.5C236.8,588.5 235.3,588.1 238.4,591.2C241.5,594.4 240.0,592.8 243.1,595.9C246.2,599.1 244.7,597.9 247.8,600.6C250.9,603.4 249.4,604.9 252.5,604.1C255.6,603.4 254.1,603.4 257.2,598.3C260.3,593.2 258.8,594.8 261.9,588.9C265.0,583.0 263.4,586.2 266.6,580.7C269.7,575.2 268.1,576.0 271.3,572.5C274.4,569.0 272.8,570.7 275.9,570.1C279.1,569.6 277.9,568.9 280.6,570.8C283.4,572.8 281.8,572.3 284.2,576.0C286.5,579.7 284.9,580.7 287.7,581.9C290.4,583.0 289.2,581.3 292.4,579.5C295.5,577.7 293.9,577.8 297.1,576.5C300.2,575.1 298.6,575.3 301.8,575.5C304.9,575.8 303.3,574.7 306.4,577.2C309.6,579.7 308.0,578.0 311.1,583.0C314.3,588.1 312.7,585.0 315.8,592.4C319.0,599.8 317.4,597.5 320.5,605.3C323.7,613.1 322.1,610.0 325.2,615.9C328.3,621.7 326.8,618.6 329.9,622.9C333.0,627.2 331.2,627.5 334.6,628.8C338.0,630.0 336.6,629.9 340.2,626.7C343.7,623.5 341.0,622.1 345.2,619.1C349.5,616.1 347.8,619.5 352.9,617.8C357.9,616.1 355.4,614.4 360.5,614.0C365.6,613.6 363.0,614.4 368.1,616.6C373.2,618.7 371.5,617.0 375.7,620.4C379.9,623.8 377.4,622.1 380.8,626.7C384.2,631.4 382.5,630.1 385.9,634.3C389.2,638.6 387.6,637.7 390.9,639.4C394.3,641.1 392.6,640.3 396.0,639.4C399.4,638.6 397.7,639.0 401.1,636.9C404.5,634.8 402.8,635.6 406.2,633.1C409.6,630.5 407.9,631.4 411.2,629.3C414.6,627.1 412.9,626.7 416.3,626.7C419.7,626.7 417.6,627.6 421.4,629.3C425.2,631.0 423.5,630.5 427.8,631.8C432.0,633.1 430.3,632.2 434.1,633.1C437.9,633.9 435.8,634.3 439.2,634.3C442.6,634.3 440.9,634.8 444.3,633.1C447.6,631.4 446.0,631.8 449.3,629.3C452.7,626.7 451.0,628.8 454.4,625.5C457.8,622.1 456.1,623.9 459.5,619.1C462.9,614.3 461.2,613.7 464.6,611.0C468.0,608.3 466.3,610.4 469.6,611.0C473.0,611.6 471.3,610.9 474.7,612.8C478.1,614.6 476.8,612.8 479.8,616.6C482.8,620.4 481.1,621.0 483.6,624.2C486.2,627.4 484.5,626.6 487.4,626.2C490.4,625.8 489.1,625.3 492.5,622.9C495.9,620.5 494.2,622.9 497.6,619.1C501.0,615.3 499.3,617.4 502.7,611.5C506.0,605.6 504.3,607.7 507.7,601.3C511.1,595.0 509.4,596.7 512.8,592.4C516.2,588.2 514.5,589.5 517.9,588.6C521.3,587.8 519.6,588.2 523.0,589.9C526.4,591.6 524.7,593.7 528.0,593.7C531.4,593.7 529.7,592.4 533.1,589.9C536.5,587.4 534.8,588.2 538.2,586.1C541.6,584.0 540.3,585.1 543.3,583.5C546.2,582.0 544.6,579.0 547.1,581.5C549.6,584.1 547.9,585.4 550.9,591.2C553.9,596.9 552.6,593.7 556.0,598.8C559.4,603.9 557.7,601.3 561.0,606.4C564.4,611.5 563.0,609.4 566.1,614.0C569.3,618.7 569.0,618.3 570.5,620.4" fill="none" stroke="#EFDF8A" stroke-width="1.8" stroke-linejoin="round"/>
<polyline points="104.2,614.7 107.0,621.7 109.4,630.0 111.7,632.3 112.9,646.4 114.5,649.9 116.0,658.1 117.6,654.6 118.8,658.1 119.9,655.8 121.1,628.8 123.5,632.3 125.3,637.0 127.0,628.8 129.3,630.0 131.7,637.0 134.0,635.8 136.4,633.5 138.7,625.3 140.3,613.5 142.2,608.8 143.4,587.7 145.3,583.0 146.9,592.4 148.8,608.8 150.4,618.2 152.8,613.5 155.1,618.2 156.8,630.0 158.2,618.2 159.8,625.3 161.5,617.0 163.3,627.6 165.7,628.8 168.0,618.2 169.7,611.2 171.6,615.9 173.2,607.7 175.1,600.6 176.9,611.2 178.6,614.7 180.2,618.2 182.1,608.8 184.0,594.8 185.6,585.4 186.8,577.2 188.7,590.1 190.3,585.4 192.0,576.0 193.8,545.5 195.7,534.9 197.4,547.8 199.0,551.4 200.4,576.0 202.1,592.4 203.7,599.5 205.6,592.4 207.4,585.4 209.1,579.5 210.7,587.7 212.6,594.8 215.0,599.5 216.6,587.7 218.5,590.1 219.7,580.7 220.8,578.3 222.5,585.4 224.3,580.7 226.2,585.4 227.9,577.2 229.7,578.3 231.4,590.1 233.3,597.1 234.9,604.1 236.1,598.3 237.7,620.6 239.6,608.8 241.2,594.8 243.1,585.4 245.0,599.5 247.3,606.5 249.7,613.5 252.0,618.2 253.7,604.1 254.8,585.4 256.7,584.2 258.4,571.3 260.2,545.5 261.4,534.9 263.1,538.5 264.7,552.5 266.1,564.3 267.7,579.5 268.9,571.3 270.8,578.3 273.1,577.2 274.8,580.7 276.4,587.7 278.3,580.7 280.6,574.8 282.5,580.7 284.9,592.4 286.5,583.0 288.9,581.9 290.5,569.0 292.4,552.5 294.2,566.6 295.9,557.2 297.5,576.0 299.4,573.6 301.3,570.1 302.9,569.4 304.1,604.1 306.0,605.3 307.6,597.1 310.0,603.0 312.3,601.8 314.7,608.8 317.0,620.6 319.4,638.2 321.7,632.3 324.1,630.0 326.4,619.4 328.7,625.3 331.1,630.0 333.4,627.6 335.8,631.1 338.1,627.6 340.2,606.4 341.4,598.8 344.0,602.6 345.7,603.9 347.8,624.2 350.3,629.3 352.9,616.6 355.4,624.2 357.9,614.0 360.0,606.4 361.7,592.4 363.5,606.4 365.6,625.5 368.1,620.4 370.1,626.7 372.7,628.0 375.2,634.3 377.7,642.0 380.3,634.3 382.8,629.3 384.6,642.0 385.9,655.2 387.9,639.4 389.7,647.0 392.2,649.6 394.8,634.3 397.3,635.6 399.8,621.6 401.1,616.6 403.1,622.9 404.9,617.8 407.4,624.2 410.0,630.5 411.8,634.3 413.8,626.7 416.3,624.2 418.4,645.8 420.1,634.3 422.7,631.8 425.2,639.4 427.2,612.8 429.0,635.6 431.6,631.8 433.6,629.3 436.1,636.9 437.9,647.0 439.7,648.3 441.7,634.3 444.3,626.7 446.8,619.1 448.8,616.6 450.6,622.9 453.1,616.6 455.7,622.9 458.2,614.0 460.0,603.9 462.0,589.9 464.1,591.2 465.8,614.0 468.4,621.6 470.2,624.2 472.2,617.8 474.2,626.7 476.0,621.6 477.8,631.8 479.8,639.4 481.8,647.0 483.6,621.6 485.4,617.8 487.4,606.4 489.4,605.1 491.2,616.6 493.0,619.1 495.0,616.6 497.1,605.1 499.6,603.9 501.4,603.9 503.2,578.5 505.2,575.9 507.2,568.8 509.0,569.6 510.8,588.6 512.3,584.8 514.1,596.2 515.9,591.2 517.9,596.2 519.9,609.0 521.7,614.0 524.2,612.8 526.0,598.8 528.0,558.2 530.1,543.4 531.9,570.9 534.4,567.0 536.2,579.8 538.2,596.2 540.2,605.1 542.0,595.0 543.8,601.3 545.8,598.8 547.6,587.4 549.6,606.4 552.2,605.1 554.7,604.4 557.2,609.0 559.8,633.1 562.3,626.7 564.1,624.2 566.1,628.0 568.7,642.0 570.5,632.3" fill="none" stroke="#8264C4" stroke-width="1.35" stroke-linejoin="round"/>
</g>
<text x="112" y="536.2" class="t" textLength="77" lengthAdjust="spacingAndGlyphs" style="fill:#2c2e36;stroke:#2c2e36">RSI (14, close)</text>
<text x="196.5" y="536.2" class="n" textLength="29.4" lengthAdjust="spacingAndGlyphs" style="fill:#7E57C2;stroke:#7E57C2">37.80</text>
<text x="233.5" y="536.2" class="n" textLength="30.2" lengthAdjust="spacingAndGlyphs" style="fill:#F0D24A;stroke:#F0D24A">43.09</text>
<text x="913.5" y="543.8" class="n" textLength="31.8" lengthAdjust="spacingAndGlyphs" style="fill:#2c2e36;stroke:#2c2e36">80.00</text>
<text x="913.5" y="587.9" class="n" textLength="31.8" lengthAdjust="spacingAndGlyphs" style="fill:#2c2e36;stroke:#2c2e36">60.00</text>
<rect x="905.5" y="608.2" width="45.5" height="16.0" rx="2" fill="#FDD835"/>
<text x="914" y="620.3" class="n" textLength="31.8" lengthAdjust="spacingAndGlyphs" style="fill:#131722;stroke:#131722">43.09</text>
<rect x="905.5" y="624.9" width="45.5" height="15.899999999999977" rx="2" fill="#7E57C2"/>
<text x="914" y="637.0" class="n" textLength="31.8" lengthAdjust="spacingAndGlyphs" style="fill:#fff">37.80</text>
<text x="147.4" y="690.5" class="t" textLength="19.8" lengthAdjust="spacingAndGlyphs" style="fill:#2c2e36;stroke:#2c2e36">Sep</text>
<text x="237.6" y="690.5" class="t" textLength="20.5" lengthAdjust="spacingAndGlyphs" style="fill:#2c2e36;stroke:#2c2e36">Nov</text>
<text x="322.5" y="690.5" class="t" textLength="31" lengthAdjust="spacingAndGlyphs" font-weight="bold" style="fill:#2c2e36">2025</text>
<text x="416.0" y="690.5" class="t" textLength="20" lengthAdjust="spacingAndGlyphs" style="fill:#2c2e36;stroke:#2c2e36">Mar</text>
<text x="505.7" y="690.5" class="t" textLength="22" lengthAdjust="spacingAndGlyphs" style="fill:#2c2e36;stroke:#2c2e36">May</text>
<text x="599.2" y="690.5" class="t" textLength="15.5" lengthAdjust="spacingAndGlyphs" style="fill:#2c2e36;stroke:#2c2e36">Jul</text>
<text x="689.1" y="690.5" class="t" textLength="19.8" lengthAdjust="spacingAndGlyphs" style="fill:#2c2e36;stroke:#2c2e36">Sep</text>
<text x="779.8" y="690.5" class="t" textLength="20.5" lengthAdjust="spacingAndGlyphs" style="fill:#2c2e36;stroke:#2c2e36">Nov</text>
<text x="866.0" y="690.5" class="t" textLength="30.5" lengthAdjust="spacingAndGlyphs" font-weight="bold" style="fill:#2c2e36">2026</text>
<circle cx="57.1" cy="686.1" r="8.8" fill="#F3F3F4"/>
<text x="57.2" y="689.9" text-anchor="middle" style="font-size:10.5px;fill:#4a4a4a;stroke:#4a4a4a;stroke-width:.3px">Z</text>
<circle cx="960" cy="686.4" r="8.8" fill="#F3F3F4"/>
<text x="960" y="690" text-anchor="middle" style="font-size:10px;fill:#555;stroke:#555;stroke-width:.4px">A</text>
<g fill="#1b1d24"><path d="M9.7,711.3 h7.5 v8.6 h-4.3 v-4.9 h-3.2 z"/><circle cx="20.1" cy="713.2" r="1.9"/><path d="M23.1,711.3 h5 l-2.9,8.6 h-4.3 z"/></g>
<text x="32.9" y="720.4" class="t" textLength="70.4" lengthAdjust="spacingAndGlyphs" style="font-size:11.8px;fill:#2c2e36;stroke:#2c2e36">TradingView</text>
</svg></body></html>
